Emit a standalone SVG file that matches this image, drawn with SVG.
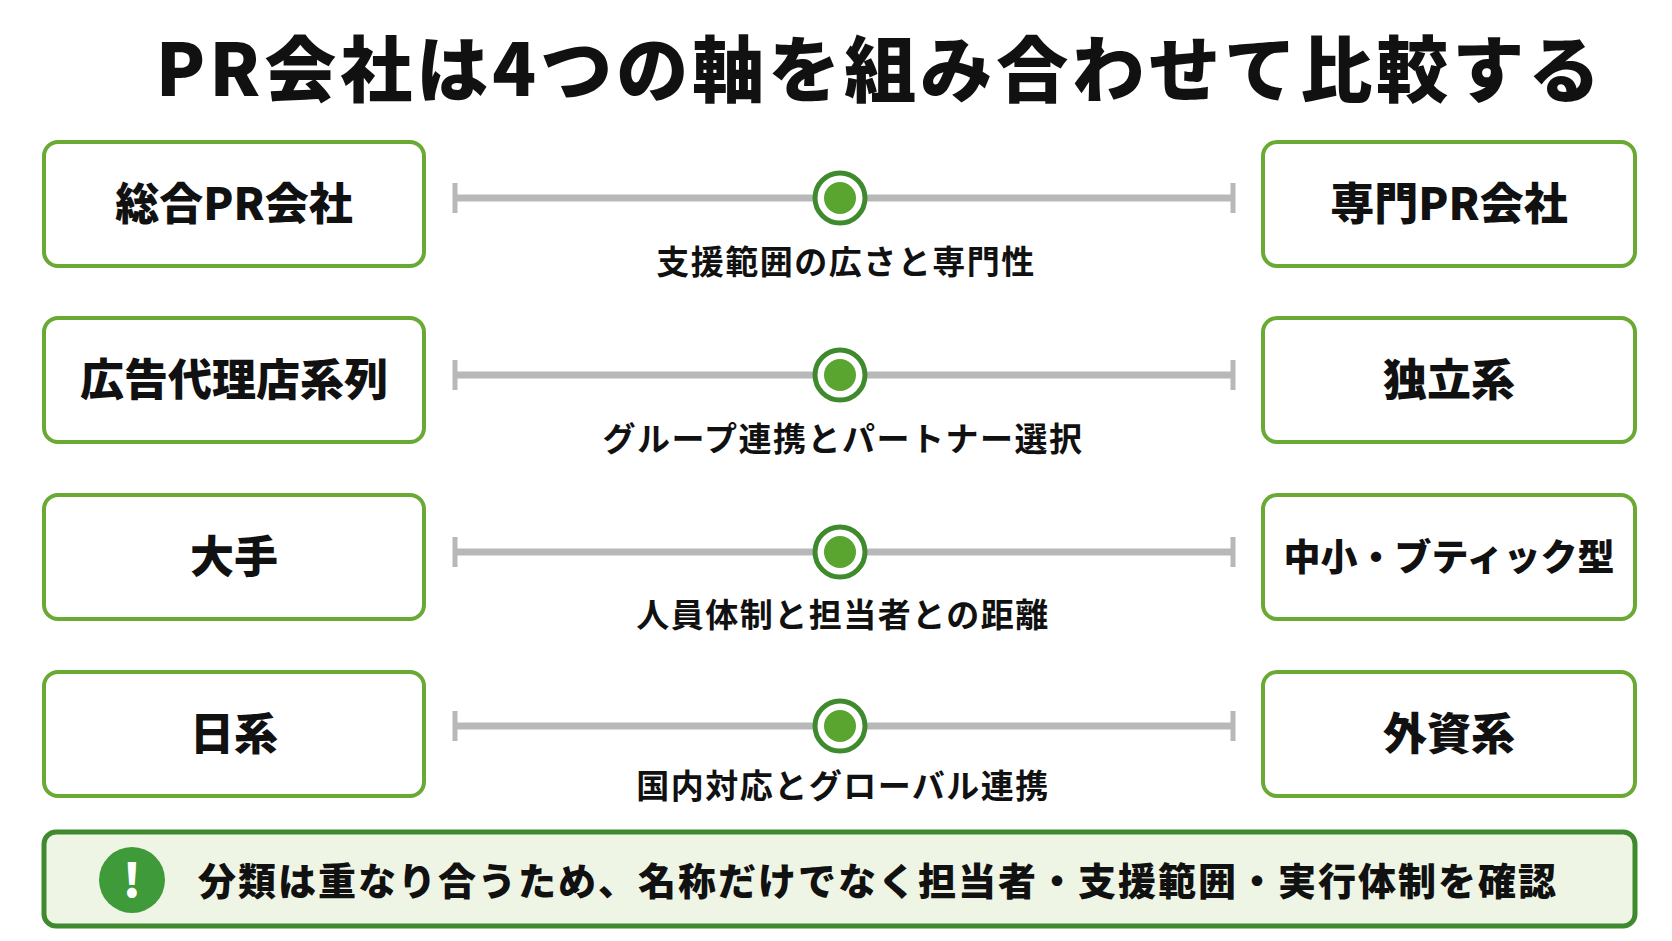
<svg xmlns="http://www.w3.org/2000/svg" width="1672" height="941" viewBox="0 0 1672 941">
<style>
text{font-family:"Noto Sans CJK JP","Noto Sans",sans-serif;fill:#111;font-weight:900}
.box{fill:#fff;stroke:#6aaa34;stroke-width:4}
.t{font-size:44px;text-anchor:middle}
.lab{font-size:33px;font-weight:700;text-anchor:middle;letter-spacing:1.5px}
.ln{stroke:#b8b8b8;stroke-width:7}
.cap{stroke:#b8b8b8;stroke-width:5}
</style>
<rect width="1672" height="941" fill="#fff"/>
<text x="880" y="96" font-size="72" text-anchor="middle" letter-spacing="4">PR会社は4つの軸を組み合わせて比較する</text>
<g id="connectors">
<g id="axis1"><line class="ln" x1="455" y1="198" x2="1233" y2="198"/><line class="cap" x1="455" y1="183" x2="455" y2="213"/><line class="cap" x1="1233" y1="183" x2="1233" y2="213"/><circle cx="840" cy="198" r="25" fill="#fff" stroke="#3f8a2e" stroke-width="5"/><circle cx="840" cy="198" r="16" fill="#5aa530"/><text class="lab" x="846" y="274">支援範囲の広さと専門性</text></g>
<g id="axis2"><line class="ln" x1="455" y1="375" x2="1233" y2="375"/><line class="cap" x1="455" y1="360" x2="455" y2="390"/><line class="cap" x1="1233" y1="360" x2="1233" y2="390"/><circle cx="840" cy="375" r="25" fill="#fff" stroke="#3f8a2e" stroke-width="5"/><circle cx="840" cy="375" r="16" fill="#5aa530"/><text class="lab" x="843" y="451">グループ連携とパートナー選択</text></g>
<g id="axis3"><line class="ln" x1="455" y1="552" x2="1233" y2="552"/><line class="cap" x1="455" y1="537" x2="455" y2="567"/><line class="cap" x1="1233" y1="537" x2="1233" y2="567"/><circle cx="840" cy="552" r="25" fill="#fff" stroke="#3f8a2e" stroke-width="5"/><circle cx="840" cy="552" r="16" fill="#5aa530"/><text class="lab" x="843" y="627">人員体制と担当者との距離</text></g>
<g id="axis4"><line class="ln" x1="455" y1="726" x2="1233" y2="726"/><line class="cap" x1="455" y1="711" x2="455" y2="741"/><line class="cap" x1="1233" y1="711" x2="1233" y2="741"/><circle cx="840" cy="726" r="25" fill="#fff" stroke="#3f8a2e" stroke-width="5"/><circle cx="840" cy="726" r="16" fill="#5aa530"/><text class="lab" x="843" y="798">国内対応とグローバル連携</text></g>
</g>
<g id="l1"><rect class="box" x="44" y="142" width="380" height="124" rx="14"/><text class="t" x="234" y="220">総合PR会社</text></g>
<g id="l2"><rect class="box" x="44" y="318" width="380" height="124" rx="14"/><text class="t" x="234" y="396">広告代理店系列</text></g>
<g id="l3"><rect class="box" x="44" y="495" width="380" height="124" rx="14"/><text class="t" x="234" y="573">大手</text></g>
<g id="l4"><rect class="box" x="44" y="672" width="380" height="124" rx="14"/><text class="t" x="234" y="750">日系</text></g>
<g id="r1"><rect class="box" x="1263" y="142" width="372" height="124" rx="14"/><text class="t" x="1449" y="220">専門PR会社</text></g>
<g id="r2"><rect class="box" x="1263" y="318" width="372" height="124" rx="14"/><text class="t" x="1449" y="396">独立系</text></g>
<g id="r3"><rect class="box" x="1263" y="495" width="372" height="124" rx="14"/><text class="t" x="1449" y="571" style="font-size:37px">中小・ブティック型</text></g>
<g id="r4"><rect class="box" x="1263" y="672" width="372" height="124" rx="14"/><text class="t" x="1449" y="750">外資系</text></g>
<g id="note"><rect x="44" y="832" width="1591" height="94" rx="12" fill="#eff5e4" stroke="#3f8a2e" stroke-width="5"/>
<circle cx="132" cy="880" r="33" fill="#3f9a3a"/><text x="132" y="897" font-size="46" text-anchor="middle" style="fill:#fff">!</text>
<text x="198" y="895" font-size="38" letter-spacing="2">分類は重なり合うため、名称だけでなく担当者・支援範囲・実行体制を確認</text></g>
</svg>
